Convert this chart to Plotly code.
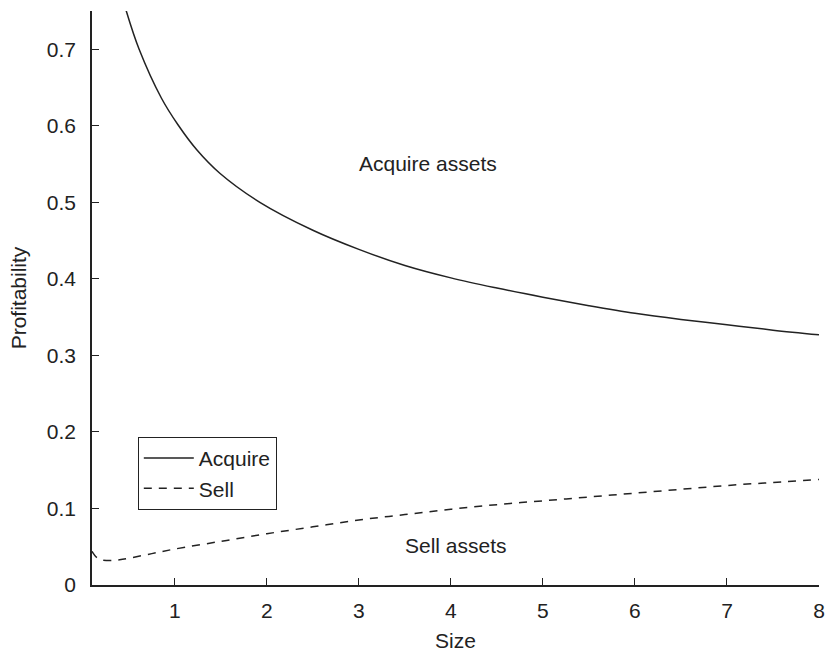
import plotly.graph_objects as go

# Data
acquire_size = [0.45, 0.475, 0.612, 0.855, 1.036, 1.236, 1.489, 1.924, 2.5, 3.0, 3.5, 4.0, 4.5, 5.0, 5.5, 6.0, 6.5, 7.0, 7.5, 8.0]
acquire_profit = [0.760, 0.749, 0.700, 0.636, 0.601, 0.569, 0.538, 0.500, 0.4635, 0.4385, 0.4175, 0.4013, 0.388, 0.376, 0.365, 0.355, 0.347, 0.340, 0.333, 0.327]

sell_size = [0.1, 0.15, 0.2, 0.3, 0.4, 0.5, 0.75, 1.0, 1.5, 2.0, 2.5, 3.0, 3.5, 4.0, 4.5, 5.0, 5.5, 6.0, 6.5, 7.0, 7.5, 8.0]
sell_profit = [0.044, 0.036, 0.033, 0.032, 0.033, 0.035, 0.041, 0.047, 0.057, 0.067, 0.076, 0.085, 0.092, 0.099, 0.105, 0.110, 0.115, 0.120, 0.125, 0.130, 0.134, 0.138]

x_ticks = [1, 2, 3, 4, 5, 6, 7, 8]
y_ticks = [0, 0.1, 0.2, 0.3, 0.4, 0.5, 0.6, 0.7]
y_tick_labels = ["0", "0.1", "0.2", "0.3", "0.4", "0.5", "0.6", "0.7"]

FONT = "Liberation Sans, Arial, sans-serif"
INK = "#222222"

fig = go.Figure()
fig.add_trace(go.Scatter(x=acquire_size, y=acquire_profit, mode="lines", name="Acquire",
                         line=dict(color=INK, width=1.5, shape="spline", smoothing=1.0)))
fig.add_trace(go.Scatter(x=sell_size, y=sell_profit, mode="lines", name="Sell",
                         line=dict(color=INK, width=1.5, dash="8px,7px", shape="spline", smoothing=1.0)))

fig.add_annotation(x=3.75, y=0.551, text="Acquire assets", showarrow=False,
                   font=dict(family=FONT, size=21, color=INK))
fig.add_annotation(x=4.05, y=0.052, text="Sell assets", showarrow=False,
                   font=dict(family=FONT, size=21, color=INK))

fig.update_layout(
    width=826, height=652,
    margin=dict(l=92, r=7, t=11, b=67),
    paper_bgcolor="white", plot_bgcolor="white",
    font=dict(family=FONT, size=21, color=INK),
    showlegend=True,
    legend=dict(x=0.063, y=0.258, xanchor="left", yanchor="top",
                bordercolor=INK, borderwidth=1, bgcolor="white",
                font=dict(family=FONT, size=21, color=INK),
                tracegroupgap=0, itemwidth=50),
    xaxis=dict(range=[0.1, 8], tickvals=x_ticks, ticks="inside", ticklen=7,
               tickcolor=INK, showline=True, linecolor=INK, linewidth=1.5,
               showgrid=False, zeroline=False, mirror=False,
               ticklabelstandoff=6, ticklabeloverflow="allow",
               title=dict(text="Size", standoff=12, font=dict(size=21)),
               tickfont=dict(size=21), automargin=False),
    yaxis=dict(range=[0, 0.75], tickvals=y_ticks, ticktext=y_tick_labels,
               ticks="inside", ticklen=7, tickcolor=INK,
               showline=True, linecolor=INK, linewidth=1.5,
               showgrid=False, zeroline=False, mirror=False,
               ticklabelstandoff=10,
               title=dict(text="Profitability", standoff=14, font=dict(size=21)),
               tickfont=dict(size=21), automargin=False),
)

fig.write_html("out.html", config={"displayModeBar": False},
               post_script="document.body.style.margin='0';document.body.style.overflow='hidden';")
